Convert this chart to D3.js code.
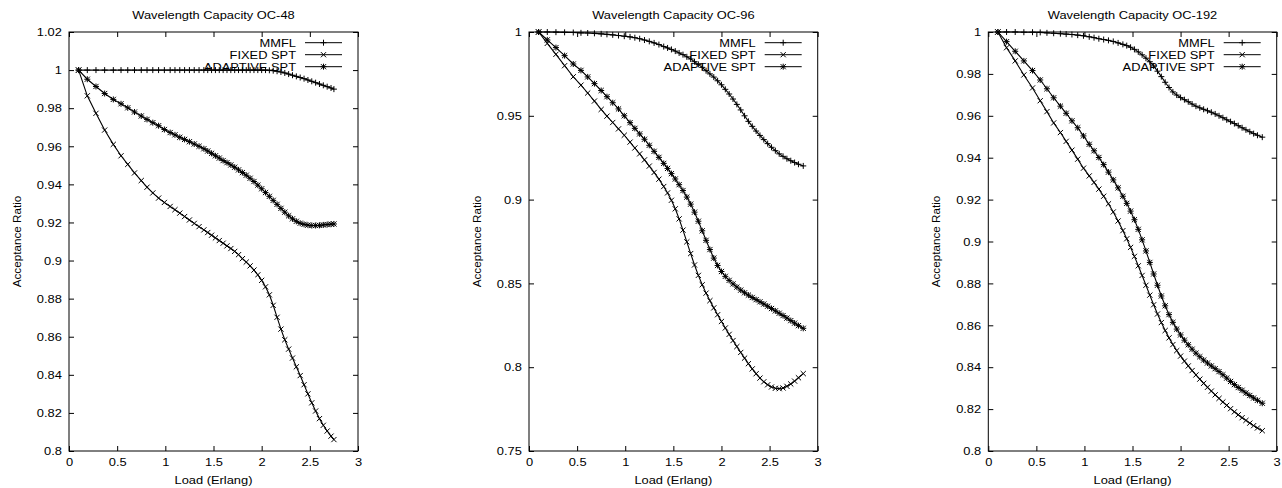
<!DOCTYPE html>
<html>
<head>
<meta charset="utf-8">
<script src="https://cdn.jsdelivr.net/npm/d3@7"></script>
<style>
  body { margin: 0; background: #fff; }
  text { font-family: "Liberation Sans", Arial, sans-serif; fill: #000; }
</style>
</head>
<body>
<svg id="chart" width="1282" height="488"></svg>
<script>
// ---- data ----
var titles = ["Wavelength Capacity OC-48", "Wavelength Capacity OC-96", "Wavelength Capacity OC-192"];
var seriesNames = ["MMFL", "FIXED SPT", "ADAPTIVE SPT"];
var xTicks = [0, 0.5, 1, 1.5, 2, 2.5, 3];
var yTicks48 = [0.8, 0.82, 0.84, 0.86, 0.88, 0.9, 0.92, 0.94, 0.96, 0.98, 1, 1.02];
var yTicks96 = [0.75, 0.8, 0.85, 0.9, 0.95, 1];
var yTicks192 = [0.8, 0.82, 0.84, 0.86, 0.88, 0.9, 0.92, 0.94, 0.96, 0.98, 1];

// load points (Erlang), OC-48 run stops at 2.75, the others at 2.85
var loads48 = [0.10, 0.19, 0.28, 0.37, 0.46, 0.54, 0.61, 0.68, 0.75, 0.81,
  0.87, 0.93, 0.99, 1.05, 1.10, 1.15, 1.20, 1.25, 1.30, 1.35,
  1.40, 1.44, 1.48, 1.52, 1.56, 1.60, 1.64, 1.68, 1.72, 1.76,
  1.80, 1.84, 1.88, 1.92, 1.96, 2.00, 2.04, 2.08, 2.12, 2.16,
  2.20, 2.24, 2.28, 2.32, 2.36, 2.40, 2.44, 2.48, 2.52, 2.56,
  2.60, 2.64, 2.68, 2.72, 2.75];
var loadsWide = [0.10, 0.19, 0.28, 0.37, 0.46, 0.54, 0.61, 0.68, 0.75, 0.81,
  0.87, 0.93, 0.99, 1.05, 1.10, 1.15, 1.20, 1.25, 1.30, 1.35,
  1.40, 1.44, 1.48, 1.52, 1.56, 1.60, 1.64, 1.68, 1.72, 1.76,
  1.80, 1.84, 1.88, 1.92, 1.96, 2.00, 2.04, 2.08, 2.12, 2.16,
  2.20, 2.24, 2.28, 2.32, 2.36, 2.40, 2.44, 2.48, 2.52, 2.56,
  2.60, 2.64, 2.68, 2.72, 2.76, 2.80, 2.85];

var mmfl48 = [1, 1, 1, 1, 1, 1, 1, 1, 1, 1,
  1, 1, 1, 1, 1, 1, 1, 1, 1, 1,
  1, 1, 1, 1, 1, 1, 1, 1, 1, 1,
  1, 1, 1, 1, 1, 1, 1, 0.9999, 0.9997, 0.9994,
  0.9990, 0.9985, 0.9979, 0.9973, 0.9967, 0.9961, 0.9955, 0.9948, 0.9941, 0.9934,
  0.9927, 0.9920, 0.9913, 0.9906, 0.9900];
var fixed48 = [1.0000, 0.9865, 0.9773, 0.9685, 0.9610, 0.9550, 0.9505, 0.9460, 0.9420, 0.9385,
  0.9355, 0.9328, 0.9305, 0.9284, 0.9267, 0.9249, 0.9231, 0.9213, 0.9195, 0.9178,
  0.9161, 0.9147, 0.9133, 0.9119, 0.9105, 0.9091, 0.9077, 0.9063, 0.9048, 0.9031,
  0.9010, 0.8992, 0.8972, 0.8950, 0.8925, 0.8896, 0.8862, 0.8820, 0.8765, 0.8702,
  0.8640, 0.8584, 0.8535, 0.8488, 0.8442, 0.8396, 0.8348, 0.8300, 0.8253, 0.8210,
  0.8170, 0.8135, 0.8105, 0.8078, 0.8060];
var adaptive48 = [1.0000, 0.9952, 0.9914, 0.9877, 0.9846, 0.9823, 0.9802, 0.9780, 0.9759, 0.9741,
  0.9724, 0.9708, 0.9688, 0.9672, 0.9660, 0.9647, 0.9636, 0.9624, 0.9612, 0.9600,
  0.9587, 0.9575, 0.9563, 0.9550, 0.9538, 0.9525, 0.9514, 0.9502, 0.9490, 0.9476,
  0.9462, 0.9448, 0.9432, 0.9415, 0.9396, 0.9377, 0.9357, 0.9337, 0.9316, 0.9295,
  0.9274, 0.9254, 0.9235, 0.9219, 0.9206, 0.9196, 0.9190, 0.9186, 0.9184, 0.9184,
  0.9185, 0.9187, 0.9189, 0.9191, 0.9192];

var mmfl96 = [1.0000, 1.0000, 0.9999, 0.9998, 0.9997, 0.9995, 0.9994, 0.9992, 0.9989, 0.9986,
  0.9983, 0.9979, 0.9975, 0.9971, 0.9966, 0.9960, 0.9952, 0.9944, 0.9935, 0.9925,
  0.9913, 0.9905, 0.9896, 0.9886, 0.9875, 0.9865, 0.9852, 0.9839, 0.9823, 0.9807,
  0.9789, 0.9769, 0.9750, 0.9731, 0.9709, 0.9685, 0.9658, 0.9630, 0.9600, 0.9568,
  0.9535, 0.9500, 0.9467, 0.9437, 0.9409, 0.9383, 0.9358, 0.9334, 0.9312, 0.9292,
  0.9273, 0.9258, 0.9244, 0.9232, 0.9221, 0.9211, 0.9201];
var fixed96 = [1.0000, 0.9932, 0.9867, 0.9799, 0.9733, 0.9683, 0.9636, 0.9588, 0.9538, 0.9498,
  0.9460, 0.9422, 0.9384, 0.9343, 0.9308, 0.9273, 0.9237, 0.9200, 0.9162, 0.9122,
  0.9078, 0.9040, 0.8996, 0.8945, 0.8885, 0.8818, 0.8748, 0.8678, 0.8610, 0.8548,
  0.8492, 0.8442, 0.8397, 0.8354, 0.8313, 0.8273, 0.8234, 0.8196, 0.8159, 0.8123,
  0.8088, 0.8054, 0.8021, 0.7990, 0.7961, 0.7935, 0.7913, 0.7895, 0.7882, 0.7874,
  0.7872, 0.7876, 0.7886, 0.7900, 0.7917, 0.7937, 0.7962];
var adaptive96 = [1.0000, 0.9953, 0.9907, 0.9859, 0.9809, 0.9771, 0.9732, 0.9692, 0.9651, 0.9614,
  0.9578, 0.9541, 0.9500, 0.9459, 0.9425, 0.9392, 0.9360, 0.9324, 0.9288, 0.9252,
  0.9216, 0.9186, 0.9155, 0.9123, 0.9089, 0.9054, 0.9015, 0.8973, 0.8925, 0.8871,
  0.8814, 0.8757, 0.8702, 0.8651, 0.8607, 0.8571, 0.8542, 0.8518, 0.8497, 0.8478,
  0.8460, 0.8444, 0.8430, 0.8416, 0.8403, 0.8390, 0.8377, 0.8364, 0.8350, 0.8336,
  0.8322, 0.8308, 0.8293, 0.8278, 0.8263, 0.8248, 0.8232];

var mmfl192 = [1.0000, 1.0000, 1.0000, 0.9999, 0.9999, 0.9998, 0.9996, 0.9994, 0.9992, 0.9990,
  0.9988, 0.9985, 0.9982, 0.9977, 0.9973, 0.9968, 0.9964, 0.9960, 0.9955, 0.9948,
  0.9941, 0.9935, 0.9927, 0.9917, 0.9905, 0.9891, 0.9875, 0.9858, 0.9838, 0.9813,
  0.9787, 0.9760, 0.9735, 0.9714, 0.9699, 0.9687, 0.9677, 0.9667, 0.9656, 0.9646,
  0.9638, 0.9631, 0.9624, 0.9617, 0.9609, 0.9600, 0.9591, 0.9581, 0.9572, 0.9563,
  0.9553, 0.9543, 0.9533, 0.9524, 0.9515, 0.9507, 0.9498];
var fixed192 = [1.0000, 0.9925, 0.9862, 0.9795, 0.9733, 0.9672, 0.9620, 0.9566, 0.9520, 0.9478,
  0.9436, 0.9393, 0.9350, 0.9313, 0.9282, 0.9250, 0.9216, 0.9180, 0.9141, 0.9098,
  0.9052, 0.9013, 0.8972, 0.8929, 0.8884, 0.8838, 0.8791, 0.8744, 0.8698, 0.8654,
  0.8613, 0.8575, 0.8540, 0.8508, 0.8479, 0.8453, 0.8429, 0.8406, 0.8384, 0.8363,
  0.8343, 0.8323, 0.8304, 0.8286, 0.8268, 0.8251, 0.8234, 0.8218, 0.8202, 0.8187,
  0.8173, 0.8159, 0.8146, 0.8133, 0.8121, 0.8110, 0.8097];
var adaptive192 = [1.0000, 0.9954, 0.9908, 0.9862, 0.9816, 0.9771, 0.9729, 0.9686, 0.9646, 0.9612,
  0.9576, 0.9543, 0.9504, 0.9464, 0.9433, 0.9401, 0.9367, 0.9331, 0.9294, 0.9256,
  0.9216, 0.9182, 0.9145, 0.9104, 0.9058, 0.9008, 0.8955, 0.8900, 0.8845, 0.8791,
  0.8740, 0.8693, 0.8651, 0.8614, 0.8582, 0.8554, 0.8529, 0.8507, 0.8486, 0.8467,
  0.8450, 0.8434, 0.8420, 0.8406, 0.8393, 0.8379, 0.8364, 0.8348, 0.8332, 0.8317,
  0.8303, 0.8290, 0.8277, 0.8265, 0.8253, 0.8242, 0.8228];

// ---- layout ----
var svg = d3.select("#chart");
var plotTop = 32, plotBottom = 451;
var stretch = 1.1;          // reference text is a little wider than tall
var fontSize = 11.7;
var fmt = d3.format("~g");

var panels = [
  { title: titles[0], loads: loads48, series: [mmfl48, fixed48, adaptive48], yDomain: [0.8, 1.02], yTicks: yTicks48, left: 69, right: 358 },
  { title: titles[1], loads: loadsWide, series: [mmfl96, fixed96, adaptive96], yDomain: [0.75, 1], yTicks: yTicks96, left: 529, right: 817.7 },
  { title: titles[2], loads: loadsWide, series: [mmfl192, fixed192, adaptive192], yDomain: [0.8, 1], yTicks: yTicks192, left: 988.3, right: 1276.7 }
];

function markerPath(kind) {
  var p = "M-3,0H3M0,-3V3";                       // +
  var x = "M-2.6,-2.6L2.6,2.6M-2.6,2.6L2.6,-2.6"; // x
  if (kind === 0) return p;
  if (kind === 1) return x;
  return p + x;                                   // *
}

function hText(g, str, cx, cy, anchor) {
  g.append("text")
    .attr("transform", "translate(" + cx + "," + cy + ") scale(" + stretch + ",1)")
    .attr("text-anchor", anchor || "middle")
    .attr("font-size", fontSize)
    .text(str);
}

function drawPanel(p) {
  var x = d3.scaleLinear().domain([0, 3]).range([p.left, p.right]);
  var y = d3.scaleLinear().domain(p.yDomain).range([plotBottom, plotTop]);
  var g = svg.append("g");

  // axes, ticks pointing inward on all four sides
  var ax = g.append("g").attr("transform", "translate(0," + plotBottom + ")")
    .call(d3.axisBottom(x).tickValues(xTicks).tickFormat(fmt).tickSize(-5).tickPadding(7));
  g.append("g").attr("transform", "translate(0," + plotTop + ")")
    .call(d3.axisTop(x).tickValues(xTicks).tickFormat("").tickSize(-5));
  var ay = g.append("g").attr("transform", "translate(" + p.left + ",0)")
    .call(d3.axisLeft(y).tickValues(p.yTicks).tickFormat(fmt).tickSize(-5).tickPadding(6.5));
  g.append("g").attr("transform", "translate(" + p.right + ",0)")
    .call(d3.axisRight(y).tickValues(p.yTicks).tickFormat("").tickSize(-5));
  g.selectAll(".domain").remove();
  [ax, ay].forEach(function (a) {
    a.attr("font-family", null).attr("font-size", null);
    a.selectAll("text").attr("font-size", fontSize).attr("transform", "scale(" + stretch + ",1)");
  });

  g.append("rect")
    .attr("x", p.left).attr("y", plotTop)
    .attr("width", p.right - p.left).attr("height", plotBottom - plotTop)
    .attr("fill", "none").attr("stroke", "#000").attr("stroke-width", 1);

  // titles and labels
  hText(g, p.title, (p.left + p.right) / 2, 18.5);
  hText(g, "Load (Erlang)", (p.left + p.right) / 2, 484.3);
  g.append("text")
    .attr("transform", "translate(" + (p.left - 48) + "," + ((plotTop + plotBottom) / 2) + ") rotate(-90)")
    .attr("text-anchor", "middle")
    .attr("font-size", fontSize)
    .text("Acceptance Ratio");

  // key
  seriesNames.forEach(function (name, i) {
    var ky = 42.7 + 12 * i;
    hText(g, name, p.right - 62, ky + 4.3, "end");
    g.append("line")
      .attr("x1", p.right - 53).attr("x2", p.right - 16)
      .attr("y1", ky).attr("y2", ky)
      .attr("stroke", "#000").attr("stroke-width", 1);
    g.append("path")
      .attr("transform", "translate(" + (p.right - 34.5) + "," + ky + ")")
      .attr("d", markerPath(i))
      .attr("stroke", "#000").attr("stroke-width", 1).attr("fill", "none");
  });

  // curves with point markers
  var line = d3.line().x(function (d) { return x(d[0]); }).y(function (d) { return y(d[1]); });
  p.series.forEach(function (vals, i) {
    var pts = p.loads.map(function (l, k) { return [l, vals[k]]; });
    g.append("path").datum(pts)
      .attr("d", line)
      .attr("fill", "none").attr("stroke", "#000").attr("stroke-width", 1.1);
    g.append("g").selectAll("path").data(pts).join("path")
      .attr("transform", function (d) { return "translate(" + x(d[0]) + "," + y(d[1]) + ")"; })
      .attr("d", markerPath(i))
      .attr("fill", "none").attr("stroke", "#000").attr("stroke-width", 1);
  });
}

panels.forEach(drawPanel);
</script>
</body>
</html>
